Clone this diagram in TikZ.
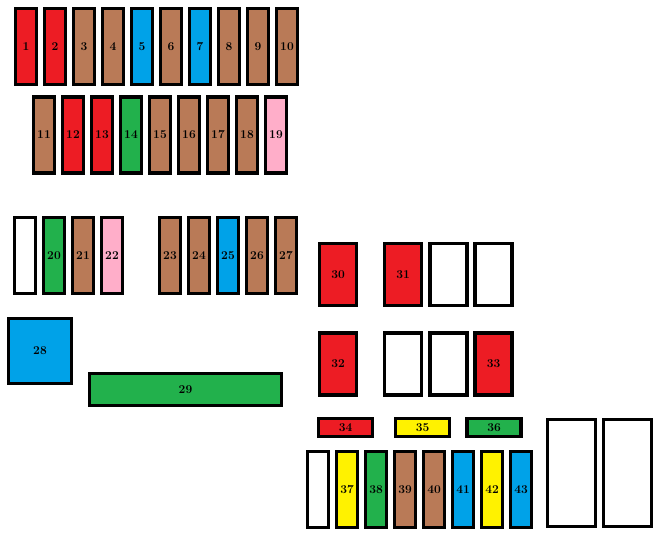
\documentclass[tikz,border=0pt]{standalone}
\usepackage{tikz}
\definecolor{fred}{HTML}{ED1C24}
\definecolor{fbrown}{HTML}{B97A57}
\definecolor{fblue}{HTML}{00A2E8}
\definecolor{fgreen}{HTML}{22B14C}
\definecolor{fyellow}{HTML}{FFF200}
\definecolor{fpink}{HTML}{FFAEC9}
\tikzset{
  fuse/.style={draw=black, line width=3.2pt, inner sep=0pt, fill=white,
    minimum width=21pt, minimum height=76pt,
    font=\fontsize{12}{14}\selectfont\bfseries},
  maxi/.style={fuse, minimum width=37pt, minimum height=62pt},
  flat/.style={fuse, minimum width=54pt, minimum height=18pt},
  big/.style={fuse, minimum width=48pt, minimum height=107pt}
}

\begin{document}
\begin{tikzpicture}[x=1pt, y=-1pt]
\useasboundingbox (0,0) rectangle (660,535);
% upper block
\node[fuse, fill=fred]   (f1)  at (26,46.5)  {1};
\node[fuse, fill=fred]   (f2)  at (55,46.5)  {2};
\node[fuse, fill=fbrown] (f3)  at (84,46.5)  {3};
\node[fuse, fill=fbrown] (f4)  at (113,46.5) {4};
\node[fuse, fill=fblue]  (f5)  at (142,46.5) {5};
\node[fuse, fill=fbrown] (f6)  at (171,46.5) {6};
\node[fuse, fill=fblue]  (f7)  at (200,46.5) {7};
\node[fuse, fill=fbrown] (f8)  at (229,46.5) {8};
\node[fuse, fill=fbrown] (f9)  at (258,46.5) {9};
\node[fuse, fill=fbrown] (f10) at (287,46.5) {10};

\node[fuse, fill=fbrown] (f11) at (44,135)  {11};
\node[fuse, fill=fred]   (f12) at (73,135)  {12};
\node[fuse, fill=fred]   (f13) at (102,135) {13};
\node[fuse, fill=fgreen] (f14) at (131,135) {14};
\node[fuse, fill=fbrown] (f15) at (160,135) {15};
\node[fuse, fill=fbrown] (f16) at (189,135) {16};
\node[fuse, fill=fbrown] (f17) at (218,135) {17};
\node[fuse, fill=fbrown] (f18) at (247,135) {18};
\node[fuse, fill=fpink]  (f19) at (276,135) {19};

% middle block
\node[fuse]              (e1)  at (25,255.5)  {};
\node[fuse, fill=fgreen] (f20) at (54,255.5)  {20};
\node[fuse, fill=fbrown] (f21) at (83,255.5)  {21};
\node[fuse, fill=fpink]  (f22) at (112,255.5) {22};
\node[fuse, fill=fbrown] (f23) at (170,255.5) {23};
\node[fuse, fill=fbrown] (f24) at (199,255.5) {24};
\node[fuse, fill=fblue]  (f25) at (228,255.5) {25};
\node[fuse, fill=fbrown] (f26) at (257,255.5) {26};
\node[fuse, fill=fbrown] (f27) at (286,255.5) {27};

\node[fuse, fill=fblue, minimum width=63pt, minimum height=65pt] (f28) at (40,351) {28};
\node[fuse, fill=fgreen, minimum width=192pt, minimum height=32pt] (f29) at (185.5,389.5) {29};

% maxi fuses
\node[maxi, fill=fred] (f30) at (338,274.5)   {30};
\node[maxi, fill=fred] (f31) at (403,274.5)   {31};
\node[maxi]            (e2)  at (448.5,274.5) {};
\node[maxi]            (e3)  at (493.5,274.5) {};
\node[maxi, fill=fred] (f32) at (338,364)     {32};
\node[maxi]            (e4)  at (403,364)     {};
\node[maxi]            (e5)  at (448.5,364)   {};
\node[maxi, fill=fred] (f33) at (493.5,364)   {33};

% lower block
\node[flat, fill=fred]    (f34) at (345.5,427.5) {34};
\node[flat, fill=fyellow] (f35) at (422.5,427.5) {35};
\node[flat, fill=fgreen]  (f36) at (494,427.5)   {36};

\node[fuse]               (e6)  at (318,489.5) {};
\node[fuse, fill=fyellow] (f37) at (347,489.5) {37};
\node[fuse, fill=fgreen]  (f38) at (376,489.5) {38};
\node[fuse, fill=fbrown]  (f39) at (405,489.5) {39};
\node[fuse, fill=fbrown]  (f40) at (434,489.5) {40};
\node[fuse, fill=fblue]   (f41) at (463,489.5) {41};
\node[fuse, fill=fyellow] (f42) at (492,489.5) {42};
\node[fuse, fill=fblue]   (f43) at (521,489.5) {43};

\node[big] (e7) at (571.5,473) {};
\node[big] (e8) at (627.5,473) {};
\end{tikzpicture}
\end{document}
